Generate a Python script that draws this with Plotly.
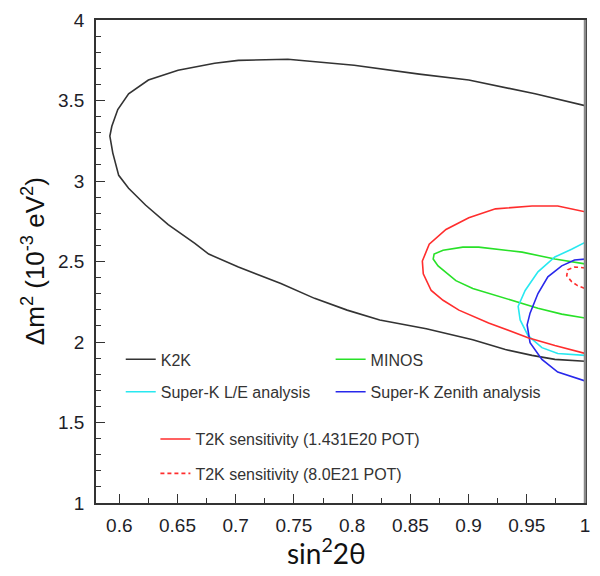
import plotly.graph_objects as go

# ---- data ----
k2k_x = [1.0, 0.9571, 0.9002, 0.8577, 0.8017, 0.7448, 0.7023, 0.6819, 0.6505, 0.6250,
         0.6080, 0.5987, 0.5936, 0.5919, 0.5944, 0.5995, 0.6080, 0.6225, 0.6420, 0.6649,
         0.6768, 0.7023, 0.7388, 0.7677, 0.7957, 0.8237, 0.8637, 0.9036, 0.9316, 0.9545,
         0.9741, 1.0]
k2k_y = [3.468, 3.542, 3.627, 3.664, 3.719, 3.756, 3.749, 3.731, 3.688, 3.627,
         3.542, 3.444, 3.340, 3.279, 3.175, 3.035, 2.955, 2.851, 2.729, 2.613,
         2.546, 2.466, 2.363, 2.271, 2.198, 2.137, 2.082, 2.014, 1.953, 1.917,
         1.892, 1.880]

minos_x = [1.0, 0.9741, 0.9460, 0.9087, 0.8951, 0.8781, 0.8704, 0.8696, 0.8738, 0.8891,
           0.9036, 0.9316, 0.9596, 0.9800, 1.0]
minos_y = [2.485, 2.515, 2.558, 2.589, 2.589, 2.570, 2.546, 2.515, 2.473, 2.381,
           2.332, 2.271, 2.210, 2.173, 2.149]

skle_x = [1.0, 0.9885, 0.9741, 0.9596, 0.9486, 0.9426, 0.9443, 0.9511, 0.9630, 0.9766, 1.0]
skle_y = [2.619, 2.576, 2.528, 2.436, 2.320, 2.222, 2.137, 2.039, 1.965, 1.929, 1.917]

skzen_x = [1.0, 0.9910, 0.9800, 0.9681, 0.9596, 0.9528, 0.9503, 0.9528, 0.9630, 0.9766, 1.0]
skzen_y = [2.515, 2.509, 2.473, 2.405, 2.301, 2.179, 2.106, 1.996, 1.892, 1.813, 1.758]

t2k_x = [1.0, 0.9766, 0.9545, 0.9231, 0.9002, 0.8806, 0.8662, 0.8603, 0.8611, 0.8679,
         0.8781, 0.8917, 0.9172, 0.9511, 0.9741, 1.0]
t2k_y = [2.809, 2.845, 2.845, 2.827, 2.772, 2.699, 2.607, 2.503, 2.424, 2.320,
         2.259, 2.198, 2.118, 2.027, 1.978, 1.929]

t2k8_x = [1.0, 0.9910, 0.9851, 0.9843, 0.9885, 0.9936, 1.0]
t2k8_y = [2.460, 2.466, 2.448, 2.411, 2.375, 2.350, 2.332]

x_ticks = [0.6, 0.65, 0.7, 0.75, 0.8, 0.85, 0.9, 0.95, 1.0]
x_tick_labels = ["0.6", "0.65", "0.7", "0.75", "0.8", "0.85", "0.9", "0.95", "1"]
y_ticks = [1, 1.5, 2, 2.5, 3, 3.5, 4]
y_tick_labels = ["1", "1.5", "2", "2.5", "3", "3.5", "4"]

names = ["K2K", "MINOS", "Super-K L/E analysis", "Super-K Zenith analysis",
         "T2K sensitivity (1.431E20 POT)", "T2K sensitivity (8.0E21 POT)"]

# ---- figure ----
series = [
    (k2k_x, k2k_y, "#333333", "solid", "legend", 0.0506, 0.2974),
    (minos_x, minos_y, "rgb(40,225,40)", "solid", "legend2", 0.4798, 0.2974),
    (skle_x, skle_y, "rgb(40,232,240)", "solid", "legend3", 0.0506, 0.2301),
    (skzen_x, skzen_y, "rgb(40,40,235)", "solid", "legend4", 0.4798, 0.2301),
    (t2k_x, t2k_y, "rgb(255,45,45)", "solid", "legend5", 0.1215, 0.1324),
    (t2k8_x, t2k8_y, "rgb(255,45,45)", "4px,3px", "legend6", 0.1215, 0.0611),
]

fig = go.Figure()
legend_font = dict(family="Liberation Sans, Arial, sans-serif", size=16, color="#333333")
for (xs, ys, col, dash, lg, lx, ly), nm in zip(series, names):
    fig.add_trace(go.Scatter(x=xs, y=ys, mode="lines", name=nm, legend=lg, showlegend=True,
                             line=dict(color=col, width=1.6, dash=dash)))
    fig.layout[lg] = dict(x=lx, y=ly, xanchor="left", yanchor="middle",
                          bgcolor="rgba(0,0,0,0)", borderwidth=0, font=legend_font,
                          itemwidth=30, visible=True)

tick_font = dict(family="Liberation Sans, Arial, sans-serif", size=19, color="#1e1e28")
fig.update_xaxes(range=[0.58, 1.0], tickvals=x_ticks, ticktext=x_tick_labels,
                 ticks="inside", ticklen=9, tickwidth=1.2, tickcolor="#333333",
                 minor=dict(dtick=0.025, ticks="inside", ticklen=5, tickcolor="#333333"),
                 showline=True, mirror=True, linecolor="#333333", linewidth=1.5,
                 showgrid=False, zeroline=False, tickfont=tick_font, ticklabelstandoff=4)
fig.update_yaxes(range=[1, 4], tickvals=y_ticks, ticktext=y_tick_labels,
                 ticks="inside", ticklen=9, tickwidth=1.2, tickcolor="#333333",
                 minor=dict(dtick=0.1, ticks="inside", ticklen=5, tickcolor="#333333"),
                 showline=True, mirror=True, linecolor="#333333", linewidth=1.5,
                 showgrid=False, zeroline=False, tickfont=tick_font, ticklabelstandoff=6)

fig.add_shape(type="line", xref="paper", yref="paper", x0=1, x1=1, y0=0, y1=1,
              line=dict(color="#8a8a8a", width=2.5))

fig.add_annotation(text="sin<sup>2</sup>2θ", xref="paper", yref="paper",
                   x=0.4716, y=-0.143, showarrow=False, xanchor="center", yanchor="bottom",
                   font=dict(family="Lato, sans-serif", size=28, color="#111111"))
fig.add_annotation(text="Δm<sup>2</sup> (10<sup>-3</sup> eV<sup>2</sup>)", xref="paper", yref="paper",
                   x=-0.1275, y=0.5, showarrow=False, textangle=-90,
                   xanchor="center", yanchor="middle",
                   font=dict(family="Liberation Sans, Arial, sans-serif", size=26, color="#111111"))

fig.update_layout(width=600, height=576, margin=dict(l=96, r=10, t=12, b=73),
                  plot_bgcolor="white", paper_bgcolor="white", showlegend=True)

fig.write_html("out.html")
